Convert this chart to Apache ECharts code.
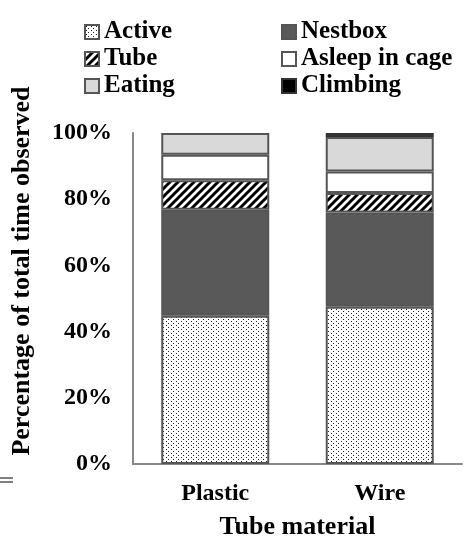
<!DOCTYPE html>
<html><head><meta charset="utf-8">
<script src="https://cdn.jsdelivr.net/npm/echarts@6/dist/echarts.min.js"></script>
<style>html,body{margin:0;padding:0;background:#fff}#c{width:464px;height:545px}</style>
</head><body><div id="c"></div>
<script>
var categories = ['Plastic', 'Wire'];
var active = [44.8, 47.5];
var nestbox = [32.0, 28.5];
var tube = [8.9, 5.9];
var asleep = [7.7, 6.5];
var eating = [6.6, 10.4];
var climbing = [0, 1.2];
var yTicks = [0, 20, 40, 60, 80, 100];

function dotPattern() {
  var c = document.createElement('canvas'); c.width = 5; c.height = 4;
  var g = c.getContext('2d'); g.fillStyle = '#fff'; g.fillRect(0,0,5,4);
  g.fillStyle = '#222'; g.fillRect(1,1,1,1); g.fillRect(3,3,1,1);
  return {image: c, repeat: 'repeat'};
}
function stripePattern() {
  var c = document.createElement('canvas'); c.width = 8; c.height = 8;
  var g = c.getContext('2d'); g.fillStyle = '#fff'; g.fillRect(0,0,8,8);
  g.strokeStyle = '#000'; g.lineWidth = 3;
  g.beginPath(); g.moveTo(-2,10); g.lineTo(10,-2); g.stroke();
  g.beginPath(); g.moveTo(-2,2); g.lineTo(2,-2); g.stroke();
  g.beginPath(); g.moveTo(6,10); g.lineTo(10,6); g.stroke();
  return {image: c, repeat: 'repeat'};
}
var FONT = '"Liberation Serif", "Times New Roman", serif';
function ser(name, data, color, borderColor) {
  var bc = borderColor || '#555';
  return {name: name, type: 'bar', stack: 's', barWidth: 108,
    data: data.map(function (v) {
      return v === 0 ? {value: v, itemStyle: {borderWidth: 0}} : v;
    }),
    itemStyle: {color: color, borderColor: bc, borderWidth: 2}, emphasis: {disabled: true}};
}
var legendText = {fontFamily: FONT, fontWeight: 'bold', fontSize: 25, color: '#000', lineHeight: 26};
var chart = echarts.init(document.getElementById('c'), null, {renderer: 'canvas'});
chart.setOption({
  animation: false,
  grid: {left: 133, right: 2, top: 133, bottom: 75},
  legend: [
    {data: ['Active', 'Tube', 'Eating'], orient: 'vertical', left: 79, top: 14, icon: 'rect',
     itemWidth: 14, itemHeight: 14, itemGap: 1, textStyle: legendText},
    {data: ['Nestbox', 'Asleep in cage', 'Climbing'], orient: 'vertical', left: 276, top: 14, icon: 'rect',
     itemWidth: 14, itemHeight: 14, itemGap: 1, textStyle: legendText}
  ],
  xAxis: {type: 'category', data: categories,
    axisLine: {lineStyle: {color: '#888', width: 2}}, axisTick: {show: false},
    axisLabel: {fontFamily: FONT, fontWeight: 'bold', fontSize: 24, color: '#000', margin: 18},
    name: 'Tube material', nameLocation: 'middle', nameGap: 50,
    nameTextStyle: {fontFamily: FONT, fontWeight: 'bold', fontSize: 26, color: '#000'}},
  yAxis: {type: 'value', min: yTicks[0], max: yTicks[yTicks.length-1], interval: 20,
    axisLine: {show: true, lineStyle: {color: '#888', width: 2}}, axisTick: {show: false},
    splitLine: {show: false},
    axisLabel: {formatter: '{value}%', fontFamily: FONT, fontWeight: 'bold', fontSize: 24, color: '#000', margin: 21}},
  graphic: [
    {type: 'text', x: 22, y: 271, rotation: Math.PI/2,
     style: {text: 'Percentage of total time observed', font: 'bold 26px ' + FONT, fill: '#000', align: 'center', verticalAlign: 'middle'}},
    {type: 'line', shape: {x1: 0, y1: 478, x2: 13, y2: 478}, style: {stroke: '#000', lineWidth: 1}},
    {type: 'line', shape: {x1: 0, y1: 482, x2: 13, y2: 482}, style: {stroke: '#000', lineWidth: 1}}
  ],
  series: [
    ser('Active', active, dotPattern()),
    ser('Nestbox', nestbox, '#595959'),
    ser('Tube', tube, stripePattern()),
    ser('Asleep in cage', asleep, '#ffffff'),
    ser('Eating', eating, '#d9d9d9'),
    ser('Climbing', climbing, '#000000', '#333')
  ]
});
</script></body></html>
